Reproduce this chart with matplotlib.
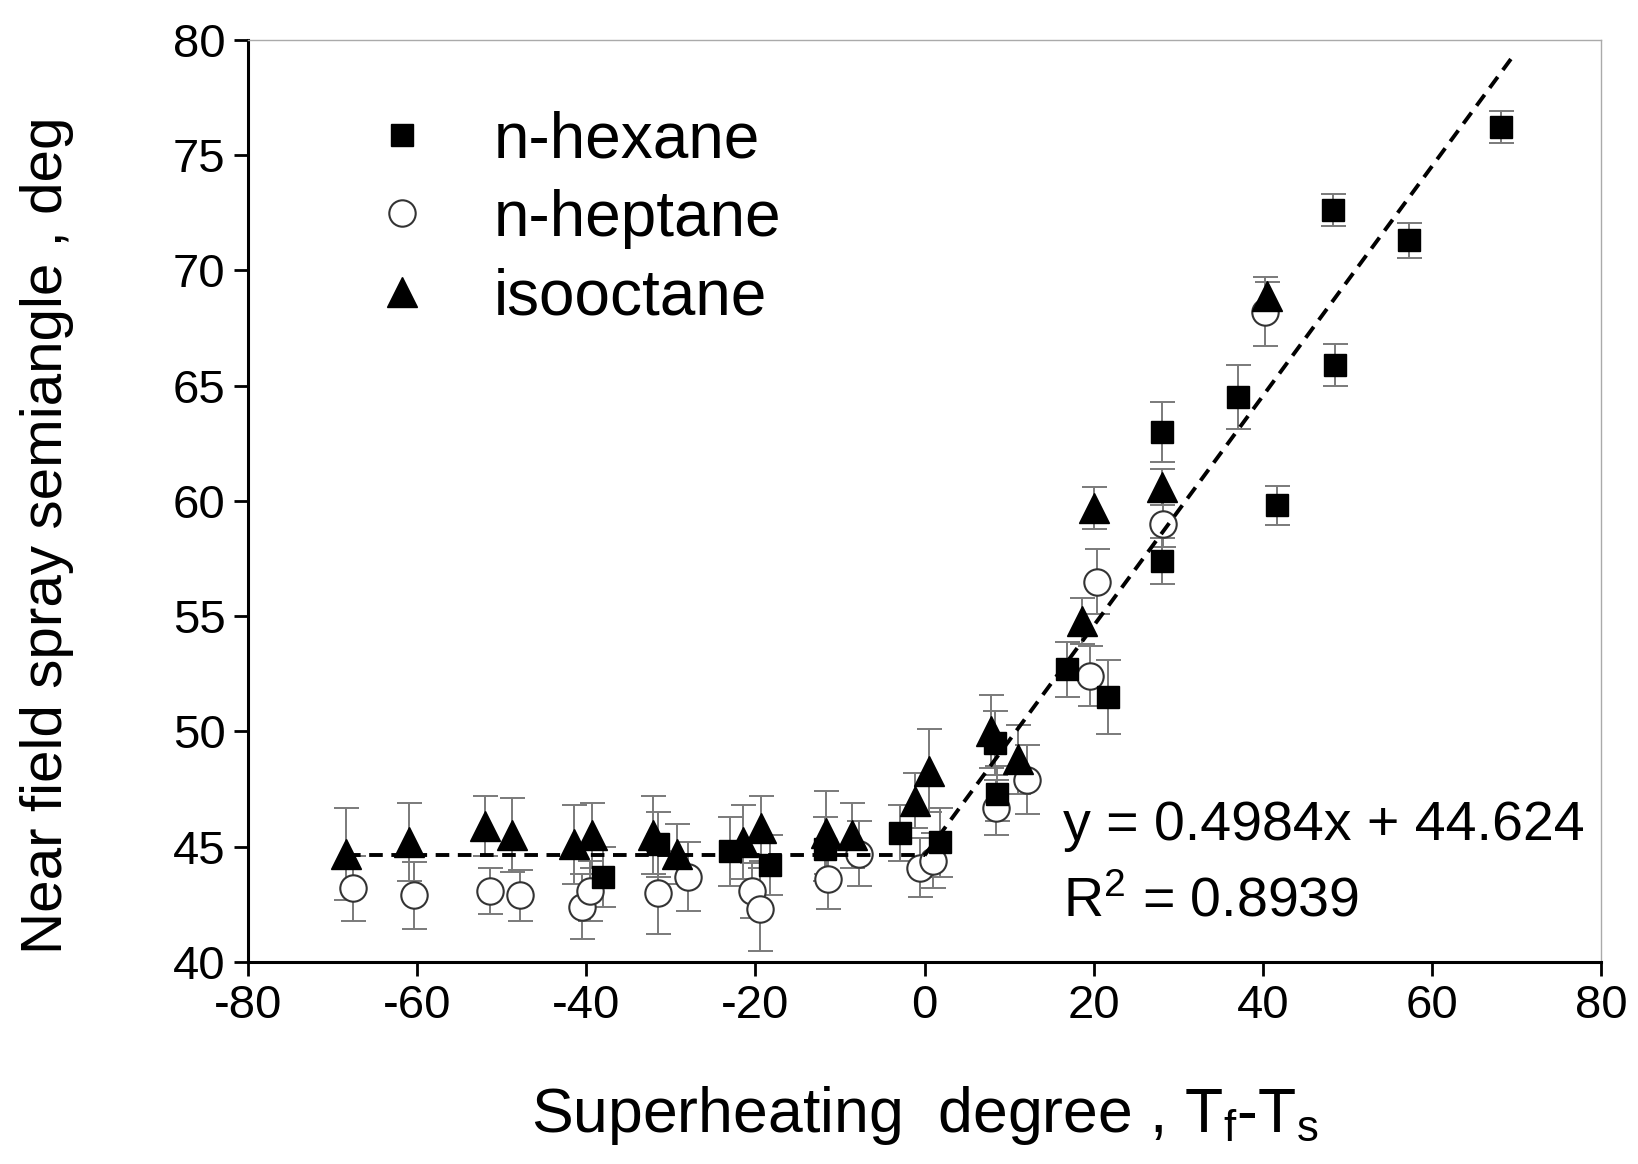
import numpy as np
import matplotlib
matplotlib.use("Agg")
import matplotlib.pyplot as plt

plt.rcParams['font.family'] = ['Liberation Sans', 'DejaVu Sans']
plt.rcParams['mathtext.fontset'] = 'custom'
plt.rcParams['mathtext.rm'] = 'Liberation Sans'
plt.rcParams['mathtext.it'] = 'Liberation Sans'
plt.rcParams['axes.unicode_minus'] = False

# n-hexane (filled squares)
hex_x = [-38.0, -31.5, -23.0, -18.3, -11.8, -2.9, 1.8, 8.3, 8.6, 16.8, 21.7,
         28.1, 28.1, 37.0, 41.6, 48.3, 48.5, 57.2, 68.1]
hex_y = [43.7, 45.1, 44.8, 44.2, 44.9, 45.6, 45.2, 49.5, 47.3, 52.7, 51.5,
         57.4, 63.0, 64.5, 59.8, 72.6, 65.9, 71.3, 76.2]
hex_e = [1.3, 1.4, 1.5, 1.3, 1.4, 1.2, 1.5, 1.4, 1.2, 1.2, 1.6,
         1.0, 1.3, 1.4, 0.85, 0.7, 0.9, 0.75, 0.7]

# n-heptane (open circles)
hep_x = [-67.5, -60.4, -51.4, -47.8, -40.5, -39.5, -31.5, -28.0, -20.4, -19.5,
         -11.4, -7.7, -0.5, 1.0, 8.5, 12.1, 19.6, 20.4, 28.2, 40.2]
hep_y = [43.2, 42.9, 43.1, 42.9, 42.4, 43.1, 43.0, 43.7, 43.1, 42.3,
         43.6, 44.7, 44.1, 44.4, 46.7, 47.9, 52.4, 56.5, 59.0, 68.2]
hep_e = [1.4, 1.45, 1.0, 1.1, 1.4, 1.3, 1.8, 1.5, 1.2, 1.8,
         1.3, 1.4, 1.3, 1.2, 1.2, 1.5, 1.3, 1.4, 1.0, 1.5]

# isooctane (filled triangles)
iso_x = [-68.4, -60.9, -52.0, -48.8, -41.4, -39.3, -32.1, -29.3, -21.4, -19.3,
         -11.7, -8.6, -1.1, 0.5, 7.9, 11.1, 18.6, 20.0, 28.1, 40.5]
iso_y = [44.7, 45.2, 45.9, 45.5, 45.1, 45.5, 45.5, 44.7, 45.2, 45.8,
         45.6, 45.5, 47.0, 48.3, 50.0, 48.8, 54.8, 59.7, 60.6, 68.9]
iso_e = [2.0, 1.7, 1.3, 1.6, 1.7, 1.4, 1.7, 1.3, 1.6, 1.4,
         1.8, 1.4, 1.2, 1.8, 1.6, 1.5, 1.0, 0.9, 0.8, 0.6]

# linear fit shown on the chart
slope, intercept = 0.4984, 44.624
r2 = 0.8939
flat_x = [-68.3, 0.0]
fit_x = [0.0, 69.8]

fig = plt.figure(figsize=(16.38, 11.64), dpi=100)
ax = fig.add_axes([0.1512, 0.1735, 0.8265, 0.7924])

ebkw = dict(fmt='none', ecolor='#7a7a7a', elinewidth=1.4, capsize=9, capthick=1.4, zorder=1)
ax.errorbar(hep_x, hep_y, yerr=hep_e, **ebkw)
ax.errorbar(hex_x, hex_y, yerr=hex_e, **ebkw)
ax.errorbar(iso_x, iso_y, yerr=iso_e, **ebkw)

ax.plot(hex_x, hex_y, 's', ms=16.5, color='black', label='n-hexane', zorder=3)
ax.plot(hep_x, hep_y, 'o', ms=19, mfc='white', mec='#333333', mew=1.5,
        label='n-heptane', zorder=2)
ax.plot(iso_x, iso_y, '^', ms=22, color='black', label='isooctane', zorder=4)

ax.plot(flat_x, [intercept, intercept], '--', color='black', lw=2.8,
        dashes=(3.5, 2.2), zorder=5)
ax.plot(fit_x, [slope * v + intercept for v in fit_x], '--', color='black',
        lw=2.8, dashes=(3.5, 2.2), zorder=5)

ax.text(16.4, 45.9, 'y = %.4fx + %.3f' % (slope, intercept), fontsize=40,
        va='center', ha='left')
ax.text(16.4, 42.6, 'R$^2$ = %.4f' % r2, fontsize=40, va='center', ha='left')

ax.set_xlim(-80, 80)
ax.set_ylim(40, 80)
ax.set_xticks(np.arange(-80, 81, 20))
ax.set_yticks(np.arange(40, 81, 5))
ax.tick_params(axis='both', labelsize=34, direction='out', length=10, width=2,
               top=False, right=False, pad=6)

for s in ['left', 'bottom']:
    ax.spines[s].set_linewidth(2.2)
for s in ['top', 'right']:
    ax.spines[s].set_linewidth(1.0)
    ax.spines[s].set_color('#aaaaaa')

ax.set_ylabel('Near field spray semiangle , deg', fontsize=42)
ax.yaxis.set_label_coords(-0.128, 0.463)
ax.set_xlabel('Superheating  degree , T$_f$-T$_s$', fontsize=45, labelpad=40)

ax.legend(loc='upper left', bbox_to_anchor=(0.024, 0.986), frameon=False,
          fontsize=46, handletextpad=0.44, labelspacing=0.29, markerscale=1.0)

fig.savefig('out.png', dpi=100)
